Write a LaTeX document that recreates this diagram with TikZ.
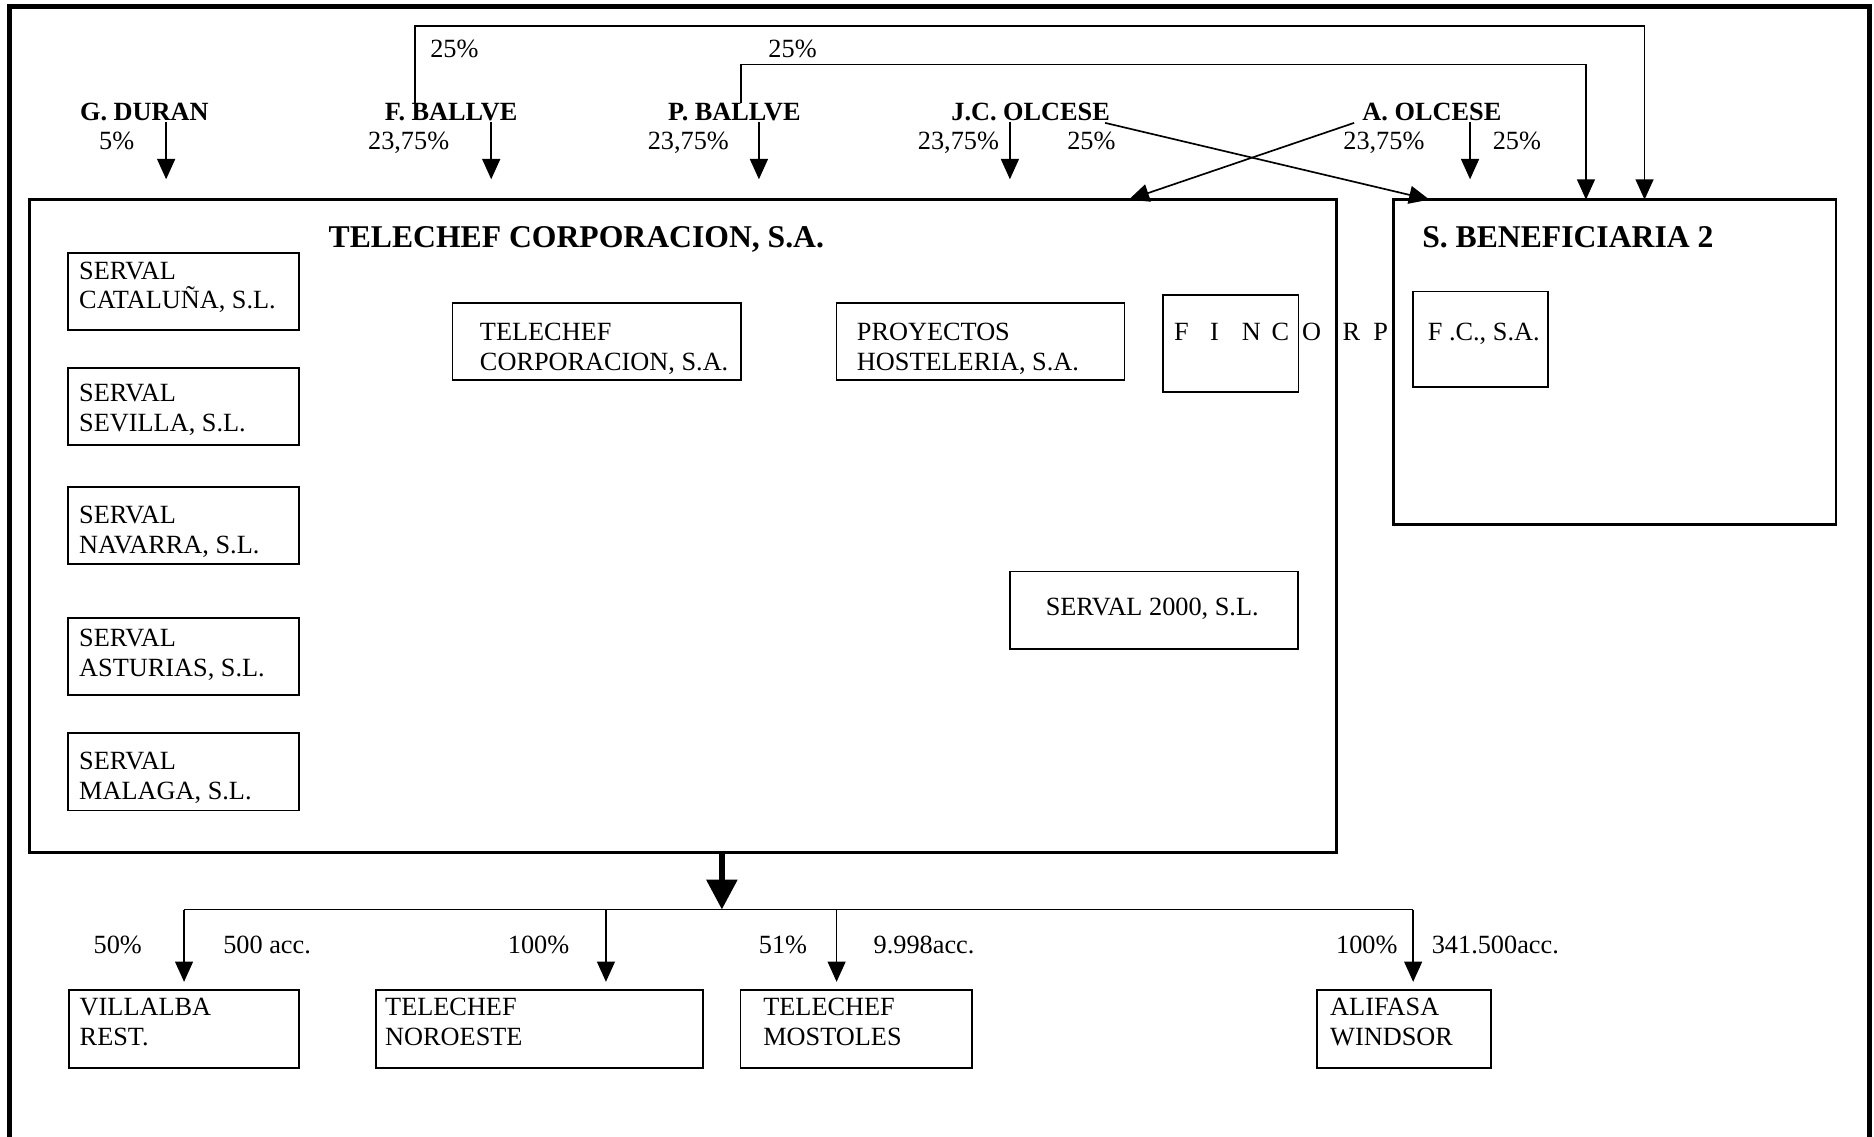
\documentclass[tikz,border=0pt]{standalone}
\usepackage{fontspec}
\setmainfont{Liberation Serif}
\usetikzlibrary{arrows.meta,calc}
\begin{document}
\begin{tikzpicture}[x=1pt,y=-1pt,
  txt/.style={inner sep=0pt, outer sep=0pt, font=\fontsize{22}{25}\selectfont, align=left, anchor=base west},
  btxt/.style={inner sep=0pt, outer sep=0pt, font=\fontsize{22}{25}\selectfont\bfseries, anchor=base west},
  ttl/.style={inner sep=0pt, outer sep=0pt, font=\fontsize{26.5}{30}\selectfont\bfseries, anchor=base west},
  box/.style={draw, line width=1.3pt, inner sep=0pt, outer sep=0pt, anchor=north west},
  bigbox/.style={draw, line width=2.6pt, inner sep=0pt, outer sep=0pt, anchor=north west},
  arr/.style={line width=1.4pt, -{Triangle[width=15pt,length=17pt]}},
  thickarr/.style={line width=5pt, -{Triangle[width=25pt,length=25pt]}},
  ln/.style={line width=1.4pt},
]
\useasboundingbox (0,0) rectangle (1568,951);
% outer frame
\draw[line width=4.2pt] (8,951) -- (8,5.6) -- (1564.5,5.6) -- (1564.5,951);

% shareholders
\node[btxt] (gd) at (67,100.5) {G. DURAN};
\node[btxt] (fb) at (322,100.5) {F. BALLVE};
\node[btxt] (pb) at (559,100.5) {P. BALLVE};
\node[btxt] (jc) at (796,100.5) {J.C. OLCESE};
\node[btxt] (ao) at (1140,100.5) {A. OLCESE};

\node[txt] (pgd) at (83,125.5) {5\%};
\node[txt] (pfb) at (308,125.5) {23,75\%};
\node[txt] (ppb) at (542,125.5) {23,75\%};
\node[txt] (pjc) at (768,125.5) {23,75\%};
\node[txt] (pjc2) at (893,125.5) {25\%};
\node[txt] (pao) at (1124,125.5) {23,75\%};
\node[txt] (pao2) at (1249,125.5) {25\%};
\node[txt] (t25a) at (360,48) {25\%};
\node[txt] (t25b) at (643,48) {25\%};

% main boxes
\node[bigbox, minimum width=1093pt, minimum height=546pt] (tc) at (25,167) {};
\node[ttl] (tctitle) at (275,207) {TELECHEF CORPORACION, S.A.};
\node[bigbox, line width=2pt, minimum width=370pt, minimum height=272pt] (sb) at (1166,167) {};
\node[ttl] (sbtitle) at (1190,207) {S. BENEFICIARIA 2};

% arrows from shareholders
\coordinate (gdend) at (139,150);
\coordinate (fbend) at (411,150);
\coordinate (pbend) at (635,150);
\coordinate (jcend) at (845,150);
\coordinate (aoend) at (1230,150);
\draw[arr] (gdend |- 0,102) -- (gdend);
\draw[arr] (fbend |- 0,102) -- (fbend);
\draw[arr] (pbend |- 0,102) -- (pbend);
\draw[arr] (jcend |- 0,102) -- (jcend);
\draw[arr] (aoend |- 0,102) -- (aoend);

\coordinate (fbup) at (347,22);
\coordinate (pbup) at (620,54);
\draw[arr] (fbup |- fb.north) -- (fbup) -| ($(sb.north west)+(210,0)$);
\draw[arr] (pbup |- pb.north) -- (pbup) -| ($(sb.north west)+(161,0)$);
\draw[arr] ($(jc.south east)+(-4,2)$) -- ($(sb.north west)+(30,0)$);
\draw[arr] ($(ao.south west)+(-7,2)$) -- ($(tc.north west)+(919.5,0)$);

% inner boxes
\node[box, minimum width=193pt, minimum height=64.5pt] (cat) at (57,211.5) {};
\node[txt] (catt) at (66.3,258.5) {SERVAL\\CATALUÑA, S.L.};
\node[box, minimum width=193pt, minimum height=64.5pt] (sev) at (57,307.8) {};
\node[txt] (sevt) at (66.3,361) {SERVAL\\SEVILLA, S.L.};
\node[box, minimum width=193pt, minimum height=64.5pt] (nav) at (57,407.5) {};
\node[txt] (navt) at (66.3,463) {SERVAL\\NAVARRA, S.L.};
\node[box, minimum width=193pt, minimum height=64.5pt] (ast) at (57,517) {};
\node[txt] (astt) at (66.3,566) {SERVAL\\ASTURIAS, S.L.};
\node[box, minimum width=193pt, minimum height=64.5pt] (mal) at (57,613.5) {};
\node[txt] (malt) at (66.3,669) {SERVAL\\MALAGA, S.L.};

\node[box, minimum width=241.5pt, minimum height=64.7pt] (tci) at (378.5,253.3) {};
\node[txt] (tcit) at (401.6,310) {TELECHEF\\CORPORACION, S.A.};
\node[box, minimum width=241pt, minimum height=64.7pt] (pro) at (700,253.3) {};
\node[txt] (prot) at (717,310) {PROYECTOS\\HOSTELERIA, S.A.};
\node[box, minimum width=113.3pt, minimum height=81pt] (fin) at (973,246.9) {};
\node[txt] (fint) at (982.4,285) {\makebox[30.2pt][l]{F }\makebox[26.4pt][l]{I }\makebox[25pt][l]{N }\makebox[25.6pt][l]{C }\makebox[33.7pt][l]{O }\makebox[25.9pt][l]{R }P};
\node[box, minimum width=113pt, minimum height=80pt] (fc) at (1182.1,244) {};
\node[txt] (fct) at (1194.7,285) {F .C., S.A.};
\node[box, minimum width=241pt, minimum height=65pt] (s2k) at (845,478) {};
\node[txt] (s2kt) at (875,515) {SERVAL 2000, S.L.};

% bottom distribution
\coordinate (hub) at (604,761);
\draw[thickarr] (hub |- tc.south) -- (hub);
\coordinate (b1) at (154,761);
\coordinate (b2) at (507,761);
\coordinate (b3) at (700,761);
\coordinate (b4) at (1182.4,761);
\draw[ln] (b1) -- (b4);
\draw[arr] (b1) -- (b1 |- 0,821.5);
\draw[arr] (b2) -- (b2 |- 0,821.5);
\draw[arr] (b3) -- (b3 |- 0,821.5);
\draw[arr] (b4) -- (b4 |- 0,821.5);

\node[txt] (l50) at (78.4,797.7) {50\%};
\node[txt] (l500) at (186.8,797.7) {500 acc.};
\node[txt] (l100a) at (425,797.7) {100\%};
\node[txt] (l51) at (635,797.7) {51\%};
\node[txt] (l9998) at (731,797.7) {9.998acc.};
\node[txt] (l100b) at (1118,797.7) {100\%};
\node[txt] (l341) at (1198,797.7) {341.500acc.};

\node[box, minimum width=192.5pt, minimum height=65pt] (vr) at (57.6,828.5) {};
\node[txt] (vrt) at (66.7,874.5) {VILLALBA\\REST.};
\node[box, minimum width=273.2pt, minimum height=65pt] (tn) at (314.8,828.5) {};
\node[txt] (tnt) at (322.3,874.5) {TELECHEF\\NOROESTE};
\node[box, minimum width=193.7pt, minimum height=65pt] (tm) at (619.7,828.5) {};
\node[txt] (tmt) at (638.7,874.5) {TELECHEF\\MOSTOLES};
\node[box, minimum width=145.5pt, minimum height=65pt] (aw) at (1101.8,828.5) {};
\node[txt] (awt) at (1113,874.5) {ALIFASA\\WINDSOR};
\end{tikzpicture}
\end{document}
